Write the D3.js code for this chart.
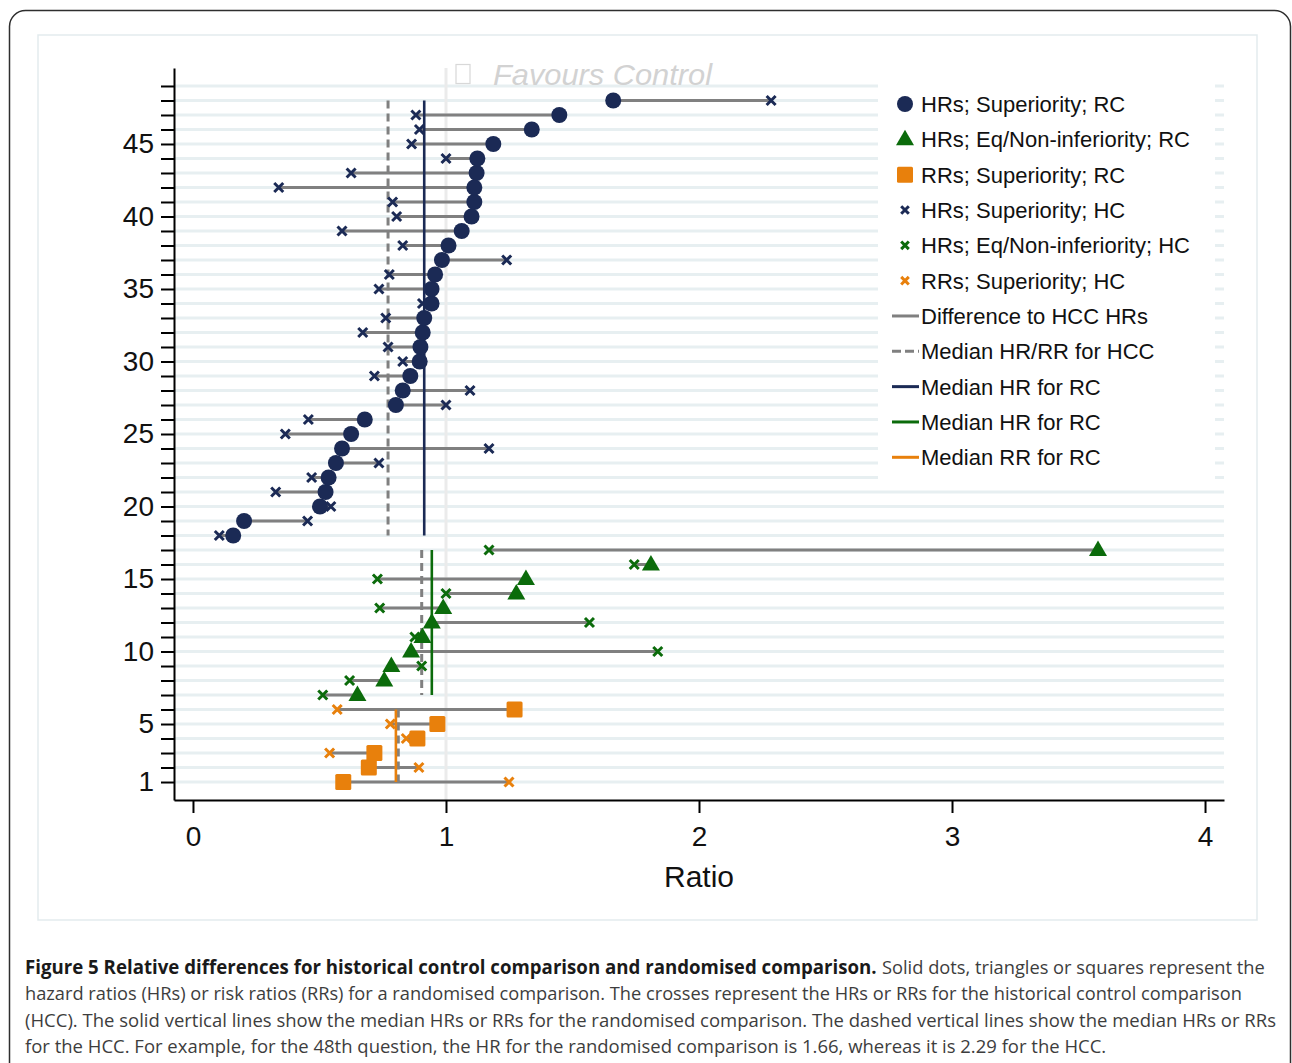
<!DOCTYPE html>
<html>
<head>
<meta charset="utf-8">
<script src="https://cdn.jsdelivr.net/npm/d3@7"></script>
<style>
  body { margin: 0; background: #fff; }
  svg { display: block; }
</style>
</head>
<body>
<script>
// ---------------- DATA ----------------
// RRs; Superiority (rows 1-6)
const rrRows = [1, 2, 3, 4, 5, 6];
const rrRC   = [0.594, 0.695, 0.717, 0.887, 0.966, 1.271];
const rrHC   = [1.249, 0.893, 0.540, 0.843, 0.780, 0.570];

// HRs; Eq/Non-inferiority (rows 7-17)
const eqRows = [7, 8, 9, 10, 11, 12, 13, 14, 15, 16, 17];
const eqRC   = [0.650, 0.756, 0.784, 0.862, 0.907, 0.944, 0.989, 1.278, 1.316, 1.810, 3.577];
const eqHC   = [0.513, 0.619, 0.904, 1.837, 0.877, 1.567, 0.738, 1.000, 0.729, 1.744, 1.170];

// HRs; Superiority (rows 18-48)
const supRows = [18, 19, 20, 21, 22, 23, 24, 25, 26, 27, 28, 29, 30, 31, 32, 33,
                 34, 35, 36, 37, 38, 39, 40, 41, 42, 43, 44, 45, 46, 47, 48];
const supRC   = [0.159, 0.202, 0.502, 0.524, 0.536, 0.565, 0.589, 0.625, 0.679, 0.802,
                 0.829, 0.859, 0.896, 0.899, 0.908, 0.914, 0.943, 0.943, 0.957, 0.984,
                 1.010, 1.062, 1.101, 1.112, 1.112, 1.121, 1.124, 1.187, 1.339, 1.448, 1.661];
const supHC   = [0.104, 0.453, 0.545, 0.327, 0.469, 0.735, 1.170, 0.365, 0.456, 1.000,
                 1.095, 0.717, 0.829, 0.771, 0.671, 0.762, 0.907, 0.735, 0.776, 1.240,
                 0.829, 0.589, 0.805, 0.789, 0.339, 0.625, 1.000, 0.864, 0.895, 0.881, 2.285];

const xTickValues = [0, 1, 2, 3, 4];
const yTickRows   = d3.range(1, 50);
const yTickLabels = [1, 5, 10, 15, 20, 25, 30, 35, 40, 45];

const legendLabels = [
  "HRs; Superiority; RC",
  "HRs; Eq/Non-inferiority; RC",
  "RRs; Superiority; RC",
  "HRs; Superiority; HC",
  "HRs; Eq/Non-inferiority; HC",
  "RRs; Superiority; HC",
  "Difference to HCC HRs",
  "Median HR/RR for HCC",
  "Median HR for RC",
  "Median HR for RC",
  "Median RR for RC"
];

const xLabel = "Ratio";
const favoursLabel = "Favours Control";

const captionBold = "Figure 5 Relative differences for historical control comparison and randomised comparison.";
const captionLines = [
  "Solid dots, triangles or squares represent the",
  "hazard ratios (HRs) or risk ratios (RRs) for a randomised comparison. The crosses represent the HRs or RRs for the historical control comparison",
  "(HCC). The solid vertical lines show the median HRs or RRs for the randomised comparison. The dashed vertical lines show the median HRs or RRs",
  "for the HCC. For example, for the 48th question, the HR for the randomised comparison is 1.66, whereas it is 2.29 for the HCC."
];

// ---------------- STYLE ----------------
const NAVY = "#1b2a55", GREEN = "#0b6b0b", ORANGE = "#e8800c", GRAY = "#808080";
const GRID = "#e7eff1";
const FONT = "'Liberation Sans', Arial, Helvetica, sans-serif";

const groups = [
  { rows: supRows, rc: supRC, hc: supHC, color: NAVY,   shape: "circle" },
  { rows: eqRows,  rc: eqRC,  hc: eqHC,  color: GREEN,  shape: "triangle" },
  { rows: rrRows,  rc: rrRC,  hc: rrHC,  color: ORANGE, shape: "square" }
];

const svg = d3.select("body").append("svg")
  .attr("width", 1292).attr("height", 1063)
  .attr("font-family", FONT);

svg.append("rect").attr("width", 1292).attr("height", 1063).attr("fill", "#fff");

// outer frame
svg.append("rect")
  .attr("x", 9.5).attr("y", 10.5).attr("width", 1281).attr("height", 1120)
  .attr("rx", 16).attr("fill", "none").attr("stroke", "#2e2e2e").attr("stroke-width", 1.5);

// inner panel
svg.append("rect")
  .attr("x", 38).attr("y", 35).attr("width", 1219).attr("height", 885)
  .attr("fill", "#fff").attr("stroke", "#e3ebee").attr("stroke-width", 1.5);

// scales
const x = d3.scaleLinear().domain([-0.075, 4.075]).range([174, 1224]);
const y = d3.scaleLinear().domain([-0.24, 50.24]).range([800, 68]);

// gridlines
svg.append("g").selectAll("line").data(yTickRows).join("line")
  .attr("x1", x.range()[0] + 1).attr("x2", x.range()[1])
  .attr("y1", d => y(d)).attr("y2", d => y(d))
  .attr("stroke", GRID).attr("stroke-width", 3);

// reference line at 1
svg.append("line")
  .attr("x1", x(1)).attr("x2", x(1)).attr("y1", y.range()[1]).attr("y2", y.range()[0])
  .attr("stroke", "#ebebeb").attr("stroke-width", 3);

// Favours Control
svg.append("rect")
  .attr("x", 456).attr("y", 64.5).attr("width", 14).attr("height", 19)
  .attr("fill", "none").attr("stroke", "#d8d8d8").attr("stroke-width", 1.2);
svg.append("text")
  .attr("x", 493).attr("y", 85)
  .attr("font-size", 30).attr("font-style", "italic").attr("fill", "#d2d2d2")
  .attr("textLength", 219).attr("lengthAdjust", "spacingAndGlyphs")
  .text(favoursLabel);

// difference lines
groups.forEach(g => {
  svg.append("g").selectAll("line").data(g.rows).join("line")
    .attr("x1", (d, i) => x(g.hc[i])).attr("x2", (d, i) => x(g.rc[i]))
    .attr("y1", d => y(d)).attr("y2", d => y(d))
    .attr("stroke", GRAY).attr("stroke-width", 3);
});

// median lines
groups.forEach(g => {
  const top = y(d3.max(g.rows)), bot = y(d3.min(g.rows));
  const mHC = d3.median(g.hc), mRC = d3.median(g.rc);
  svg.append("line")
    .attr("x1", x(mHC)).attr("x2", x(mHC)).attr("y1", top).attr("y2", bot)
    .attr("stroke", GRAY).attr("stroke-width", 3).attr("stroke-dasharray", "8,5");
  svg.append("line")
    .attr("x1", x(mRC)).attr("x2", x(mRC)).attr("y1", top).attr("y2", bot)
    .attr("stroke", g.color).attr("stroke-width", 2.6);
});

// marker drawers
function drawCross(sel, color, s = 4.5) {
  sel.append("path")
    .attr("d", `M${-s},${-s}L${s},${s}M${-s},${s}L${s},${-s}`)
    .attr("stroke", color).attr("stroke-width", 3).attr("fill", "none");
}
function drawShape(sel, shape, color) {
  if (shape === "circle") {
    sel.append("circle").attr("r", 8).attr("fill", color);
  } else if (shape === "triangle") {
    sel.append("path").attr("d", "M0,-9.5L9,6L-9,6Z").attr("fill", color);
  } else {
    sel.append("rect").attr("x", -8).attr("y", -8).attr("width", 16).attr("height", 16)
      .attr("rx", 1.5).attr("fill", color);
  }
}

// crosses (HC)
groups.forEach(g => {
  svg.append("g").selectAll("g").data(g.rows).join("g")
    .attr("transform", (d, i) => `translate(${x(g.hc[i])},${y(d)})`)
    .each(function () { drawCross(d3.select(this), g.color); });
});

// RC markers
groups.forEach(g => {
  svg.append("g").selectAll("g").data(g.rows).join("g")
    .attr("transform", (d, i) => `translate(${x(g.rc[i])},${y(d)})`)
    .each(function () { drawShape(d3.select(this), g.shape, g.color); });
});

// axes
const yAxis = d3.axisLeft(y).tickValues(yTickRows).tickSize(13).tickPadding(7).tickSizeOuter(0)
  .tickFormat(d => yTickLabels.includes(d) ? String(d) : "");
const gy = svg.append("g").attr("transform", `translate(${x.range()[0]},0)`).call(yAxis);
gy.attr("font-family", FONT);
gy.select(".domain").attr("stroke", "#000").attr("stroke-width", 2);
gy.selectAll(".tick line").attr("stroke", "#000").attr("stroke-width", 2);
gy.selectAll(".tick text").attr("font-size", 28).attr("fill", "#111");

const xAxis = d3.axisBottom(x).tickValues(xTickValues).tickSize(13).tickPadding(13).tickSizeOuter(0)
  .tickFormat(d3.format("d"));
const gx = svg.append("g").attr("transform", `translate(0,${y.range()[0]})`).call(xAxis);
gx.attr("font-family", FONT);
gx.select(".domain").attr("stroke", "#000").attr("stroke-width", 2);
gx.selectAll(".tick line").attr("stroke", "#000").attr("stroke-width", 2);
gx.selectAll(".tick text").attr("font-size", 28).attr("fill", "#111");

svg.append("text")
  .attr("x", x(2)).attr("y", 887).attr("text-anchor", "middle")
  .attr("font-size", 30).attr("fill", "#111").text(xLabel);

// legend
const lg = svg.append("g");
lg.append("rect").attr("x", 878).attr("y", 79).attr("width", 337).attr("height", 406).attr("fill", "#fff");
const legendKinds = [
  { t: "shape", shape: "circle",   color: NAVY },
  { t: "shape", shape: "triangle", color: GREEN },
  { t: "shape", shape: "square",   color: ORANGE },
  { t: "cross", color: NAVY },
  { t: "cross", color: GREEN },
  { t: "cross", color: ORANGE },
  { t: "line",  color: GRAY },
  { t: "dash",  color: GRAY },
  { t: "line",  color: NAVY },
  { t: "line",  color: GREEN },
  { t: "line",  color: ORANGE }
];
legendLabels.forEach((lab, i) => {
  const cy = 104 + i * 35.33;
  const k = legendKinds[i];
  const item = lg.append("g").attr("transform", `translate(905,${cy})`);
  if (k.t === "shape") drawShape(item, k.shape, k.color);
  else if (k.t === "cross") drawCross(item, k.color, 3.8);
  else if (k.t === "line") item.append("line").attr("x1", -13).attr("x2", 14)
      .attr("stroke", k.color).attr("stroke-width", 3);
  else item.append("line").attr("x1", -13).attr("x2", 14)
      .attr("stroke", k.color).attr("stroke-width", 3).attr("stroke-dasharray", "9,4");
  lg.append("text").attr("x", 921).attr("y", cy).attr("dy", "0.36em")
    .attr("font-size", 22).attr("fill", "#111").text(lab);
});

// caption: each piece rendered at natural width, then squeezed horizontally to fit
const CAP_FONT = "'Liberation Sans Narrow', 'Open Sans', sans-serif";
function captionPiece(str, x0, x1, yb, bold, color) {
  const g = svg.append("g");
  const t = g.append("text").attr("x", 0).attr("y", 0)
    .attr("font-family", CAP_FONT).attr("font-size", 19)
    .attr("font-weight", bold ? "bold" : "normal").attr("fill", color).text(str);
  const w = t.node().getComputedTextLength();
  g.attr("transform", `translate(${x0},${yb}) scale(${(x1 - x0) / w},1)`);
}
const capY = [974, 1000, 1027, 1053];
const capEnds = [1265, 1243, 1276, 1107];
captionPiece(captionBold, 25, 877, capY[0], true, "#1a1a1a");
captionPiece(captionLines[0], 882, capEnds[0], capY[0], false, "#3d3d3d");
for (let i = 1; i < 4; i++) {
  captionPiece(captionLines[i], 25, capEnds[i], capY[i], false, "#3d3d3d");
}
</script>
</body>
</html>
